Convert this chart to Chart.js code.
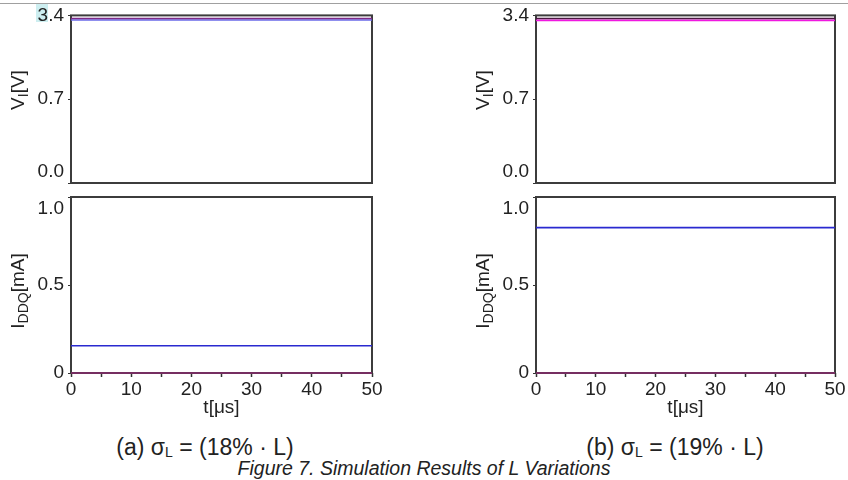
<!DOCTYPE html>
<html>
<head>
<meta charset="utf-8">
<script src="https://cdn.jsdelivr.net/npm/chart.js@4.4.0/dist/chart.umd.min.js"></script>
<style>
  body { margin: 0; background: #fff; font-family: "Liberation Sans", Arial, sans-serif; color: #222; }
  #page { position: relative; width: 848px; height: 480px; overflow: hidden; }
  .box { position: absolute; }
  .ytitle { position: absolute; transform: translate(-50%, -50%) rotate(-90deg); white-space: nowrap; font-size: 19px; }
  .ytitle sub { font-size: 14px; vertical-align: -4px; }
  .cap { position: absolute; transform: translate(-50%, -50%); white-space: nowrap; font-size: 23px; }
  .cap sub { font-size: 14px; vertical-align: -2px; }
  .fig { font-style: italic; font-size: 19.5px; }
</style>
</head>
<body>
<div id="page">
  <div style="position:absolute;left:0;top:3px;width:848px;height:1px;background:#a0a0a0"></div>
  <div style="position:absolute;left:36px;top:4px;width:12px;height:18px;background:#cdeef0"></div>

  <div class="box" style="left:0;top:0"><canvas id="tl" width="424" height="210"></canvas></div>
  <div class="box" style="left:424px;top:0"><canvas id="tr" width="424" height="210"></canvas></div>
  <div class="box" style="left:0;top:170px"><canvas id="bl" width="424" height="252"></canvas></div>
  <div class="box" style="left:424px;top:170px"><canvas id="br" width="424" height="252"></canvas></div>

  <div class="ytitle" style="left:19px;top:90px">V<sub>I</sub>[V]</div>
  <div class="ytitle" style="left:484px;top:90px">V<sub>I</sub>[V]</div>
  <div class="ytitle" style="left:19px;top:291px">I<sub>DDQ</sub>[mA]</div>
  <div class="ytitle" style="left:484px;top:291px">I<sub>DDQ</sub>[mA]</div>

  <div class="cap" style="left:205px;top:447px">(a) σ<sub>L</sub> = (18% · L)</div>
  <div class="cap" style="left:675px;top:447px">(b) σ<sub>L</sub> = (19% · L)</div>
  <div class="cap fig" style="left:424px;top:468px">Figure 7. Simulation Results of L Variations</div>
</div>

<script>
// time samples [µs]
var t = [0, 10, 20, 30, 40, 50];
// V_I [V]
var vTicks = [0, 0.7, 3.4];
var vA_purple = [3.30, 3.30, 3.30, 3.30, 3.30, 3.30];
var vA_blue   = [3.25, 3.25, 3.25, 3.25, 3.25, 3.25];
var vB_dark   = [3.30, 3.30, 3.30, 3.30, 3.30, 3.30];
var vB_pink   = [3.24, 3.24, 3.24, 3.24, 3.24, 3.24];
// I_DDQ [mA]
var iTicks = [0, 0.5, 1.0];
var iA_blue   = [0.155, 0.155, 0.155, 0.155, 0.155, 0.155];
var iA_purple = [0, 0, 0, 0, 0, 0];
var iB_blue   = [0.826, 0.826, 0.826, 0.826, 0.826, 0.826];
var iB_purple = [0, 0, 0, 0, 0, 0];

// y axis of the voltage plots: 0..0.7 takes the lower half, 0.7..3.4 the upper half
class KneeScale extends Chart.LinearScale {
  static id = 'knee';
  static defaults = Chart.LinearScale.defaults;
  getPixelForValue(v) {
    if (v === null || v === undefined) return NaN;
    var k = vTicks[1];
    var d = v <= k ? (v - this.min) / (k - this.min) * 0.5
                   : 0.5 + (v - k) / (this.max - k) * 0.5;
    return this.getPixelForDecimal(d);
  }
  getValueForPixel(p) {
    var k = vTicks[1];
    var d = this.getDecimalForPixel(p);
    return d <= 0.5 ? this.min + d * 2 * (k - this.min) : k + (d - 0.5) * 2 * (this.max - k);
  }
}
Chart.register(KneeScale);

var frame = {
  id: 'frame',
  beforeDatasetsDraw(chart) {
    var a = chart.chartArea, c = chart.ctx;
    c.save();
    c.strokeStyle = '#3c3c3c';
    c.lineWidth = 2;
    c.strokeRect(a.left, a.top, a.right - a.left, a.bottom - a.top);
    c.restore();
  }
};

function pts(ys) {
  return ys.map(function (y, i) { return { x: t[i], y: y }; });
}

function line(ys, color) {
  return { data: pts(ys), borderColor: color, borderWidth: 1.6, pointRadius: 0, clip: false };
}

var tickFont = { family: 'Liberation Sans', size: 19 };

function makeChart(id, sets, isVolt, leftW, rightPad) {
  var ticks = isVolt ? vTicks : iTicks;
  var yAxis = {
    type: isVolt ? 'knee' : 'linear',
    min: ticks[0], max: ticks[ticks.length - 1],
    afterFit: function (s) { s.width = leftW; },
    afterBuildTicks: function (s) { s.ticks = ticks.map(function (v) { return { value: v }; }); },
    border: { display: false },
    grid: { drawOnChartArea: false, tickLength: 3, color: '#333', tickWidth: 1 },
    ticks: {
      font: tickFont, color: '#222', padding: 4,
      callback: function (v) {
        if (!isVolt) {
          if (v === 0) return '0';
          if (v === ticks[ticks.length - 1]) return ['', v.toFixed(1)]; // sits below the top edge
          return v.toFixed(1);
        }
        if (v === 0) return [v.toFixed(1), '']; // sits above the bottom edge
        return v.toFixed(1);
      }
    }
  };
  var xAxis = {
    type: 'linear', min: 0, max: 50,
    display: !isVolt,
    afterFit: function (s) { if (!isVolt) s.height = 46; },
    border: { display: false },
    grid: { drawOnChartArea: false, tickLength: 4, color: '#333', tickWidth: 1.5 },
    ticks: {
      stepSize: 5, autoSkip: false, maxRotation: 0, font: tickFont, color: '#222', padding: 1,
      callback: function (v) { return v % 10 === 0 ? String(v) : ''; }
    },
    title: { display: true, text: 't[μs]', font: tickFont, color: '#222', padding: 0 }
  };
  return new Chart(document.getElementById(id), {
    type: 'line',
    data: { datasets: sets },
    options: {
      responsive: false,
      animation: false,
      layout: isVolt ? { padding: { top: 12, right: rightPad, bottom: 27 } }
                     : { padding: { top: 27, right: rightPad, bottom: 3 } },
      plugins: { legend: { display: false }, tooltip: { enabled: false } },
      scales: { x: xAxis, y: yAxis }
    },
    plugins: [frame]
  });
}

makeChart('tl', [line(vA_purple, '#7d2a86'), line(vA_blue, '#6a6ae8')], true, 71, 52);
makeChart('tr', [line(vB_dark, '#4a1840'), line(vB_pink, '#f018e0')], true, 112, 13);
makeChart('bl', [line(iA_blue, '#2a2ad0'), line(iA_purple, '#8a2a6e')], false, 71, 52);
makeChart('br', [line(iB_blue, '#2a2ad0'), line(iB_purple, '#8a2a6e')], false, 112, 13);
</script>
</body>
</html>
